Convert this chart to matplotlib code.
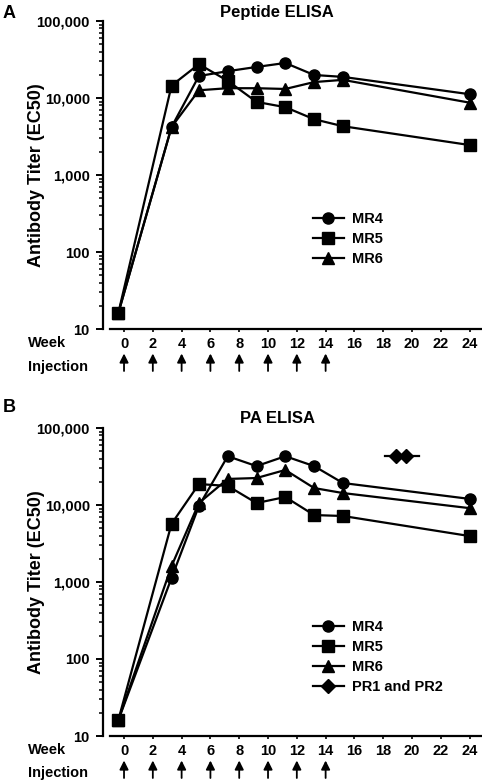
import matplotlib.pyplot as plt
import matplotlib.ticker as mticker
import numpy as np

plt.rcParams['font.family'] = ['Liberation Sans', 'DejaVu Sans']
plt.rcParams['font.weight'] = 'bold'

# sampling weeks (first bleed just before week 0)
weeks = [-0.4, 3.3, 5.2, 7.2, 9.2, 11.2, 13.2, 15.2, 24]
injection_weeks = [0, 2, 4, 6, 8, 10, 12, 14]
week_ticks = list(range(0, 25, 2))

# panel A: peptide ELISA titers
pep_mr4 = [16, 4200, 19300, 22300, 25300, 28500, 19900, 18800, 11200]
pep_mr5 = [16, 14500, 27500, 16700, 8900, 7600, 5300, 4300, 2450]
pep_mr6 = [16, 4200, 12600, 13400, 13400, 13100, 16100, 17200, 8700]

# panel B: PA ELISA titers
pa_mr4 = [16, 1130, 9700, 43000, 32000, 43000, 32000, 19300, 12000]
pa_mr5 = [16, 5700, 18700, 17700, 10600, 12700, 7400, 7200, 3950]
pa_mr6 = [16, 1610, 10600, 21800, 22400, 28500, 16600, 14300, 9100]
pr_weeks = [18.1, 18.9, 19.6, 20.5]
pr_titer = [43300, 43300, 43300, 43300]

W, H = 482, 782
fig = plt.figure(figsize=(W / 100, H / 100), dpi=100)


def px_axes(left, top, right, bottom):
    return fig.add_axes([left / W, 1 - bottom / H, (right - left) / W, (bottom - top) / H])


def style_panel(ax, title, letter, letter_y, title_y, week_y, inj_y):
    ax.set_yscale('log')
    ax.set_ylim(10, 100000)
    ax.set_xlim(-1.46, 24.86)
    for s in ['top', 'right']:
        ax.spines[s].set_visible(False)
    ax.spines['left'].set_linewidth(1.6)
    ax.spines['bottom'].set_linewidth(1.6)
    ax.spines['bottom'].set_bounds(-1, 24.86)
    ax.set_xticks(week_ticks)
    ax.set_xticklabels([str(w) for w in week_ticks], fontsize=10.5, fontweight='bold')
    ax.tick_params(axis='x', length=2.5, width=1.2, pad=3.5)
    ax.yaxis.set_major_locator(mticker.LogLocator(base=10, numticks=10))
    ax.yaxis.set_minor_locator(mticker.LogLocator(base=10, subs=np.arange(2, 10), numticks=10))
    ax.yaxis.set_minor_formatter(mticker.NullFormatter())
    ax.yaxis.set_major_formatter(mticker.FuncFormatter(lambda v, p: f'{int(round(v)):,}'))
    ax.tick_params(axis='y', which='major', length=5, width=1.4, pad=4.5, labelsize=10.5)
    ax.tick_params(axis='y', which='minor', length=2.6, width=1.1)
    for lab in ax.get_yticklabels():
        lab.set_fontweight('bold')
    ax.set_ylabel('Antibody Titer (EC50)', fontsize=13, fontweight='bold')
    ax.yaxis.set_label_coords(-0.152, 0.5)
    fig.text(277 / W, 1 - title_y / H, title, ha='center', va='center', fontsize=12, fontweight='bold')
    fig.text(3 / W, 1 - letter_y / H, letter, ha='left', va='center', fontsize=13, fontweight='bold')
    fig.text(28 / W, 1 - week_y / H, 'Week', ha='left', va='center', fontsize=10.5, fontweight='bold')
    fig.text(28 / W, 1 - inj_y / H, 'Injection', ha='left', va='center', fontsize=10.5, fontweight='bold')
    # injection arrows below the axis
    trans = ax.get_xaxis_transform()
    hpx = ax.get_position().height * H
    for w in injection_weeks:
        ax.annotate('', xy=(w, -24.5 / hpx), xytext=(w, -42 / hpx), xycoords=trans, textcoords=trans,
                    arrowprops=dict(arrowstyle='-|>', color='black', lw=1.3, mutation_scale=13,
                                    shrinkA=0, shrinkB=0), annotation_clip=False)


mk = dict(color='black', lw=1.6, markersize=8)

axA = px_axes(103, 21, 482, 329)
axA.plot(weeks, pep_mr4, marker='o', label='MR4', **mk)
axA.plot(weeks, pep_mr5, marker='s', label='MR5', **mk)
axA.plot(weeks, pep_mr6, marker='^', label='MR6', **mk)
style_panel(axA, 'Peptide ELISA', 'A', 13, 12, 343, 367)
axA.legend(loc='center left', bbox_to_anchor=(0.554, 0.292), frameon=False,
           handlelength=2.1, handletextpad=0.6, labelspacing=0.42, borderpad=0, borderaxespad=0,
           prop={'weight': 'bold', 'size': 10.5})

axB = px_axes(103, 428, 482, 736)
axB.plot(weeks, pa_mr4, marker='o', label='MR4', **mk)
axB.plot(weeks, pa_mr5, marker='s', label='MR5', **mk)
axB.plot(weeks, pa_mr6, marker='^', label='MR6', **mk)
axB.plot(pr_weeks, pr_titer, marker='D', markevery=[1, 2], label='PR1 and PR2', color='black', lw=1.6,
         markersize=7)
style_panel(axB, 'PA ELISA', 'B', 408, 419, 750, 773)
axB.legend(loc='center left', bbox_to_anchor=(0.554, 0.256), frameon=False,
           handlelength=2.1, handletextpad=0.6, labelspacing=0.42, borderpad=0, borderaxespad=0,
           prop={'weight': 'bold', 'size': 10.5})

fig.savefig('out.png', dpi=100)
